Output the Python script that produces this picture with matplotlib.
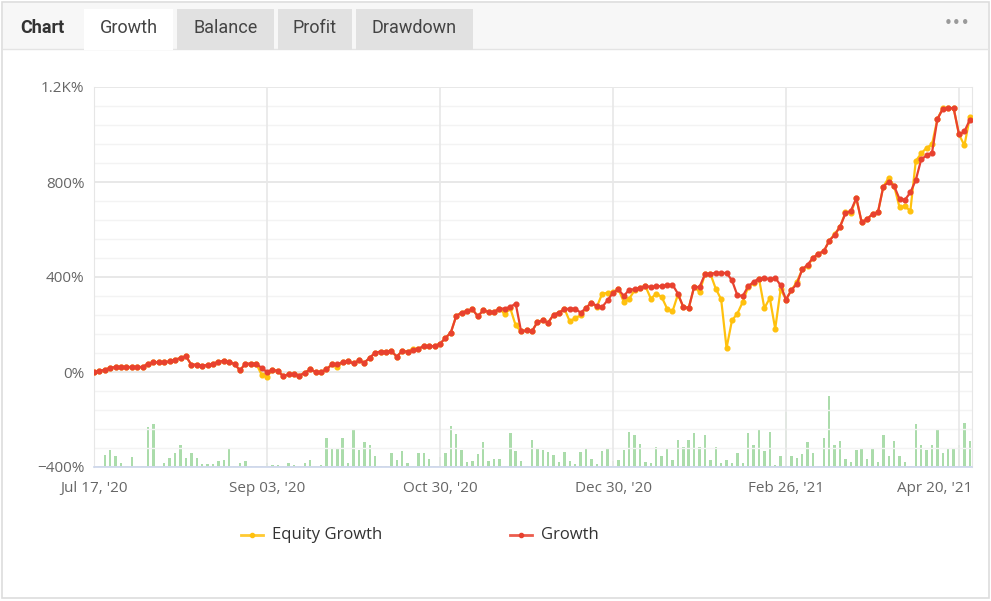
import matplotlib
matplotlib.use('Agg')
import matplotlib.pyplot as plt
import matplotlib.transforms as mtransforms
from matplotlib.lines import Line2D
from matplotlib.patches import Rectangle
import numpy as np

# growth (%) per trading day
growth = [
    0, 3, 10, 17, 21, 21, 21, 21, 21, 21, 35, 41, 41, 41, 45, 52, 59, 66, 31, 31,
    27, 29, 35, 42, 48, 41, 34, 7, 35, 35, 35, 17, 0, 9, 4, -17, -10, -8, -15,
    -3, 11, 0, 0, 11, 32, 32, 42, 46, 36, 49, 39, 60, 81, 86, 86, 88, 65, 88, 86,
    91, 98, 109, 109, 109, 119, 143,
    166, 236, 250, 257, 264, 234, 260, 253, 253, 267, 267, 274, 288,
    171, 175, 171, 210, 217, 208, 241, 250, 264, 267, 267, 250, 269, 292, 278,
    274, 302, 334, 348,
    320, 347, 348, 355, 361, 358, 361, 362, 365, 368, 330, 274, 269, 358, 358,
    411, 414, 417, 417, 417, 386, 323, 320, 361, 379, 393, 397, 390, 397, 365,
    305, 345, 370, 432, 452, 481, 498, 509, 553, 577, 612, 668, 679, 732, 630,
    644, 665, 672, 781, 800, 783, 728, 725, 756, 808, 895, 912, 923, 1065, 1108,
    1111, 1111, 1000, 1013, 1062,
]

equity_growth = [
    0, 3, 10, 17, 21, 21, 21, 21, 21, 21, 35, 41, 41, 41, 45, 52, 59, 66, 31, 31,
    27, 29, 35, 42, 48, 41, 34, 7, 35, 35, 35, -11, -19, 9, 4, -17, -10, -8, -15,
    -3, 11, 0, 0, 11, 32, 21, 42, 46, 36, 49, 39, 60, 81, 86, 86, 88, 65, 88, 86,
    98, 98, 109, 109, 109, 119, 143,
    166, 236, 250, 257, 264, 234, 260, 253, 253, 267, 243, 268, 196,
    171, 175, 171, 210, 217, 208, 241, 250, 267, 213, 227, 239, 269, 292, 274,
    330, 333, 337, 348,
    295, 309, 344, 355, 361, 309, 330, 316, 267, 255, 326, 274, 269, 358, 337,
    411, 414, 351, 306, 101, 217, 246, 295, 358, 376, 393, 269, 311, 182, 348,
    305, 345, 379, 432, 446, 481, 498, 509, 553, 581, 612, 672, 669, 732, 630,
    644, 665, 672, 781, 818, 783, 693, 697, 679, 888, 920, 944, 958, 1065, 1111,
    1111, 1111, 1000, 954, 1073,
]

# green columns at the bottom (relative heights)
daily_bars = [
    9, 1, 12, 17, 11, 4, 1, 10, 1, 1, 40, 43, 0, 4, 9, 14, 22, 9, 14, 9,
    3, 3, 3, 6, 7, 19, 1, 4, 6, 1, 1, 1, 4,
    2, 2, 1, 4, 2, 1, 4, 7, 1, 2, 29, 19, 19, 29, 4, 37, 17, 25, 22, 11,
    1, 1, 14, 7, 16, 4, 1, 14, 14, 8, 1, 10, 14,
    41, 33, 17, 5, 6, 13, 25, 6, 8, 8, 1, 34, 16, 6, 1, 27, 19, 17, 15, 12,
    5, 15, 6, 3, 15, 19, 8, 3, 16, 18, 6, 7,
    17, 35, 32, 23, 5, 4, 20, 11, 19, 7, 27, 20, 27, 34, 20, 32, 7, 20, 4, 7,
    4, 14, 4, 34, 22, 38, 16, 35, 2, 11, 55,
    11, 9, 13, 25, 14, 1, 29, 71, 22, 26, 8, 5, 17, 19, 8, 19, 5, 32, 11, 26,
    11, 5, 1, 43, 22, 17, 22, 38, 14, 19, 19, 22, 44, 26,
]

tick_idx = [0, 32, 64, 96, 128, 160]
tick_labels = ["Jul 17, '20", "Sep 03, '20", "Oct 30, '20", "Dec 30, '20",
               "Feb 26, '21", "Apr 20, '21"]
y_ticks = [-400, 0, 400, 800, 1200]
y_labels = ['\u2212400%', '0%', '400%', '800%', '1.2K%']
tabs = ['Growth', 'Balance', 'Profit', 'Drawdown']

W, H = 991, 601
YELLOW = '#ffc10e'
RED = '#e8412f'
TXT = '#666666'
plt.rcParams['font.family'] = ['Open Sans', 'DejaVu Sans']


def fx(x):
    return x / W


def fy(y):
    return 1 - y / H


fig = plt.figure(figsize=(W / 100, H / 100), dpi=100)
fig.patch.set_facecolor('white')

# card frame and tab bar
fig.add_artist(Rectangle((fx(2), fy(598)), fx(987), 596 / H, transform=fig.transFigure,
                         facecolor='white', edgecolor='#dddddd', lw=1.2, zorder=0))
fig.add_artist(Rectangle((fx(3), fy(49)), fx(985), 46 / H, transform=fig.transFigure,
                         facecolor='#f7f7f7', edgecolor='none', zorder=0.5))
fig.add_artist(Line2D([fx(3), fx(988)], [fy(49), fy(49)], transform=fig.transFigure,
                      color='#e4e4e4', lw=1, zorder=0.6))
fig.text(fx(42), fy(28), 'Chart', fontsize=13, fontweight='bold', color='#333333',
         ha='center', va='center', family=['Roboto', 'DejaVu Sans'])
tab_x = [(84, 173), (177, 274), (278, 352), (356, 473)]
for name, (x0, x1) in zip(tabs, tab_x):
    fc = 'white' if name == 'Growth' else '#e1e1e1'
    fig.add_artist(Rectangle((fx(x0), fy(49.5)), fx(x1 - x0), 40 / H, transform=fig.transFigure,
                             facecolor=fc, edgecolor='none', zorder=0.7))
    fig.text(fx((x0 + x1) / 2), fy(28), name, fontsize=13, color='#444444',
             ha='center', va='center', family=['Roboto', 'DejaVu Sans'])
fig.text(fx(957), fy(24), '\u2022\u2022\u2022', fontsize=11, color='#9a9a9a',
         ha='center', va='center', family=['DejaVu Sans'])

# plot area
ax = fig.add_axes([fx(94), fy(467), fx(972 - 94), (467 - 87) / H])
axb = ax.twinx()
ax.set_zorder(axb.get_zorder() + 1)
ax.patch.set_visible(False)

x = np.arange(len(growth))
axb.bar(x, daily_bars, width=0.45, color='#abdcab', zorder=1)
axb.set_ylim(0, 380)
axb.set_yticks([])
for s in axb.spines.values():
    s.set_visible(False)

for v in np.arange(-400, 1201, 80):
    major = v % 400 == 0
    ax.axhline(v, color='#e6e6e6' if major else '#f3f3f3', lw=1.3 if major else 1.0, zorder=0)
for t in tick_idx:
    ax.axvline(t, color='#e9e9e9', lw=1.3, zorder=0)

ax.plot(x, equity_growth, color=YELLOW, lw=1.6, marker='o', ms=3.4, zorder=3)
ax.plot(x, growth, color=RED, lw=1.6, marker='o', ms=3.4, zorder=4)

ax.set_xlim(0, 162.4)
ax.set_ylim(-400, 1200)
ax.set_yticks(y_ticks)
ax.set_yticklabels(y_labels)
ax.set_xticks(tick_idx)
ax.set_xticklabels(tick_labels)
ax.tick_params(axis='both', length=0, labelsize=11, colors=TXT)
ax.tick_params(axis='y', pad=7)
ax.tick_params(axis='x', pad=10)
# last date label is pushed left so it stays inside the card
last = ax.get_xticklabels()[-1]
last.set_horizontalalignment('right')
last.set_transform(last.get_transform() + mtransforms.ScaledTranslation(0.13, 0, fig.dpi_scale_trans))
ax.spines['top'].set_visible(False)
ax.spines['left'].set_color('#e6e6e6')
ax.spines['right'].set_color('#e6e6e6')
ax.spines['bottom'].set_color('#ccd6eb')
ax.spines['bottom'].set_linewidth(1.2)

# legend
for (x0, col, label) in [(241, YELLOW, 'Equity Growth'), (510, RED, 'Growth')]:
    fig.add_artist(Line2D([fx(x0), fx(x0 + 22)], [fy(535), fy(535)], transform=fig.transFigure,
                          color=col, lw=2, alpha=0.85))
    fig.add_artist(Line2D([fx(x0 + 11)], [fy(535)], transform=fig.transFigure,
                          color=col, marker='o', ms=3))
    fig.text(fx(x0 + 31), fy(535), label, fontsize=12, color='#333333',
             ha='left', va='center')

fig.savefig('out.png', dpi=100)
